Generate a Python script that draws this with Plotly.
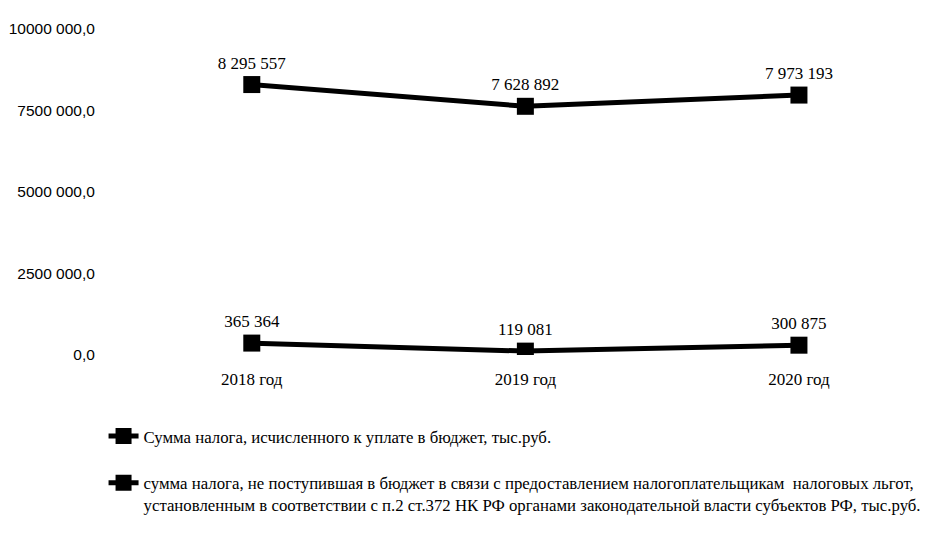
import plotly.graph_objects as go

years = ["2018 год", "2019 год", "2020 год"]
calc_tax = [8295557, 7628892, 7973193]
benefit_tax = [365364, 119081, 300875]
calc_labels = ["8 295 557", "7 628 892", "7 973 193"]
benefit_labels = ["365 364", "119 081", "300 875"]
y_ticks = [0, 2500000, 5000000, 7500000, 10000000]
y_tick_text = ["0,0", "2500 000,0", "5000 000,0", "7500 000,0", "10000 000,0"]

name1 = "Сумма налога, исчисленного к уплате в бюджет, тыс.руб."
name2 = ("сумма налога, не поступившая в бюджет в связи с предоставлением налогоплательщикам  налоговых льгот,<br>"
         "установленным в соответствии с п.2 ст.372 НК РФ органами законодательной власти субъектов РФ, тыс.руб.")

serif = "Liberation Serif"
fig = go.Figure()
for vals, labs, nm, grp in [(calc_tax, calc_labels, name1, "a"), (benefit_tax, benefit_labels, name2, "b")]:
    fig.add_trace(go.Scatter(
        x=years, y=vals, name=nm, legendgroup=grp,
        mode="lines+markers+text", text=labs, textposition="top center",
        textfont=dict(family=serif, size=17, color="black"),
        line=dict(color="black", width=5),
        marker=dict(symbol="square", size=17, color="black"),
    ))

fig.update_layout(
    width=938, height=535,
    paper_bgcolor="white", plot_bgcolor="white",
    margin=dict(l=107, r=13, t=21, b=188, autoexpand=False),
    showlegend=True,
    legend=dict(x=-0.014, xanchor="left", y=-0.195, yanchor="top", valign="top",
                font=dict(family=serif, size=16.8, color="black"),
                tracegroupgap=22, bgcolor="rgba(0,0,0,0)"),
)
fig.update_xaxes(type="category", range=[-0.5, 2.49], showgrid=False, showline=False, zeroline=False,
                 ticks="outside", ticklen=9, tickcolor="white", automargin=False,
                 tickfont=dict(family=serif, size=17, color="black"))
fig.update_yaxes(range=[0, 10000000], tickvals=y_ticks, ticktext=y_tick_text,
                 showgrid=False, showline=False, zeroline=False, automargin=False,
                 ticks="outside", ticklen=16, tickcolor="white",
                 tickfont=dict(family="Liberation Sans", size=15.5, color="black"))

fig.write_html("out.html")
